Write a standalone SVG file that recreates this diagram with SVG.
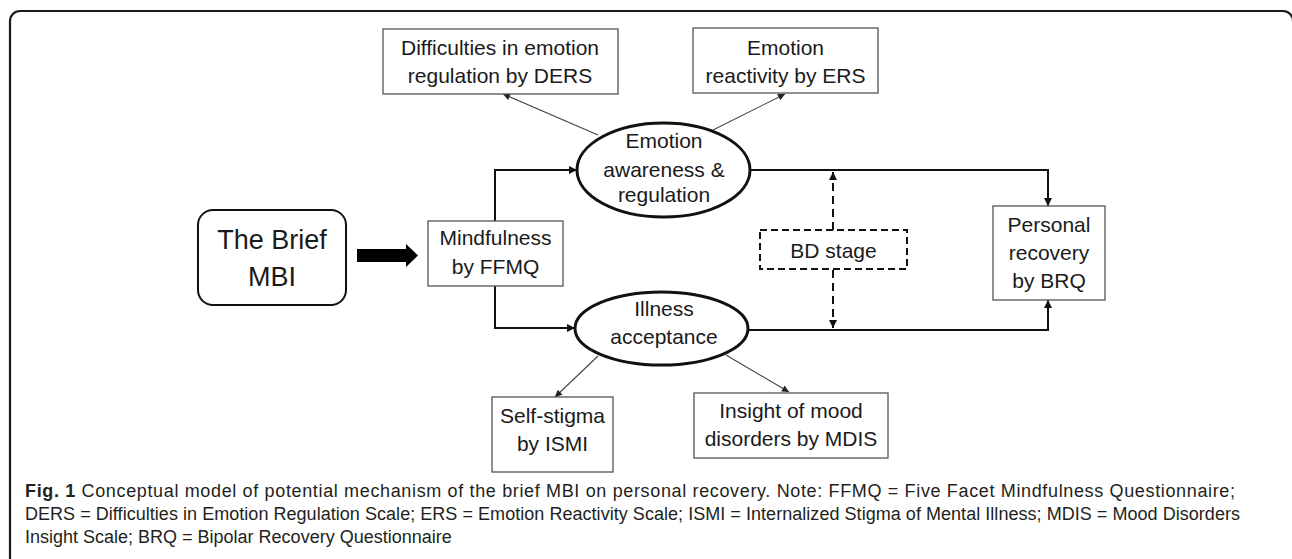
<svg xmlns="http://www.w3.org/2000/svg" width="1292" height="559" viewBox="0 0 1292 559">
<defs>
<marker id="ah" viewBox="0 0 10 10" refX="10" refY="5" markerWidth="9" markerHeight="8" markerUnits="userSpaceOnUse" orient="auto"><path d="M0,0 L10,5 L0,10 z" fill="#111"/></marker>
<marker id="ahs" viewBox="0 0 10 10" refX="10" refY="5" markerWidth="9" markerHeight="7" markerUnits="userSpaceOnUse" orient="auto"><path d="M0,0 L10,5 L0,10 z" fill="#222"/></marker>
</defs>
<style>
.t{font-family:"Liberation Sans",Arial,sans-serif;font-size:21px;fill:#1a1a1a;text-anchor:middle}
.big{font-size:27px}
.box{fill:#fff;stroke:#555;stroke-width:1.3}
.ell{fill:#fff;stroke:#111;stroke-width:3}
.c{fill:none;stroke:#111;stroke-width:2}
.thin{fill:none;stroke:#444;stroke-width:1.1}
.dash{fill:none;stroke:#111;stroke-width:2;stroke-dasharray:8 5}
.cap{font-family:"Liberation Sans",Arial,sans-serif;font-size:18px;fill:#231f20}
</style>
<rect width="1292" height="559" fill="#fff"/>
<path d="M10,559 L10,21 A10,10 0 0 1 20,11 L1283,11 A10,10 0 0 1 1293,21" fill="none" stroke="#1a1a1a" stroke-width="2.2"/>

<g id="connectors">
<path class="c" d="M495,221 V170 H577" marker-end="url(#ah)"/>
<path class="c" d="M495,286 V328 H575" marker-end="url(#ah)"/>
<path class="c" d="M750,170 H1048 V206" marker-end="url(#ah)"/>
<path class="c" d="M748,330 H1048 V300" marker-end="url(#ah)"/>
<path class="dash" d="M833,230 V172" marker-end="url(#ah)"/>
<path class="dash" d="M833,270 V328" marker-end="url(#ah)"/>
<path class="thin" d="M598,135 L503,94" marker-end="url(#ahs)"/>
<path class="thin" d="M713,130 L785,94" marker-end="url(#ahs)"/>
<path class="thin" d="M598,356 L555,397" marker-end="url(#ahs)"/>
<path class="thin" d="M726,355 L789,392" marker-end="url(#ahs)"/>
<polygon points="357,249 406,249 406,244 418,255.5 406,267 406,262 357,262" fill="#000"/>
</g>

<g id="brief">
<rect x="198" y="210" width="148" height="95" rx="15" fill="#fff" stroke="#111" stroke-width="2"/>
<text class="t big" x="272" y="249">The Brief</text>
<text class="t big" x="272" y="286">MBI</text>
</g>
<g id="mindfulness">
<rect class="box" x="428" y="221" width="135" height="65"/>
<text class="t" x="495.5" y="245">Mindfulness</text>
<text class="t" x="495.5" y="274">by FFMQ</text>
</g>
<g id="ders">
<rect class="box" x="383" y="29" width="235" height="65"/>
<text class="t" x="500" y="55">Difficulties in emotion</text>
<text class="t" x="500" y="83">regulation by DERS</text>
</g>
<g id="ers">
<rect class="box" x="693" y="28" width="185" height="65"/>
<text class="t" x="785.5" y="55">Emotion</text>
<text class="t" x="785.5" y="83">reactivity by ERS</text>
</g>
<g id="emotion">
<ellipse class="ell" cx="663.5" cy="170" rx="86.5" ry="47"/>
<text class="t" x="664" y="148">Emotion</text>
<text class="t" x="664" y="177">awareness &amp;</text>
<text class="t" x="664" y="202">regulation</text>
</g>
<g id="illness">
<ellipse class="ell" cx="661.5" cy="328.5" rx="86.5" ry="36.5"/>
<text class="t" x="664" y="316">Illness</text>
<text class="t" x="664" y="344">acceptance</text>
</g>
<g id="bdstage">
<rect x="760" y="230" width="147" height="39" fill="#fff" stroke="#111" stroke-width="2" stroke-dasharray="7 4"/>
<text class="t" x="833.5" y="258">BD stage</text>
</g>
<g id="personal">
<rect class="box" x="993" y="206" width="112" height="94"/>
<text class="t" x="1049" y="232">Personal</text>
<text class="t" x="1049" y="260">recovery</text>
<text class="t" x="1049" y="288">by BRQ</text>
</g>
<g id="selfstigma">
<rect class="box" x="492" y="397" width="121" height="75"/>
<text class="t" x="552.5" y="423">Self-stigma</text>
<text class="t" x="552.5" y="451">by ISMI</text>
</g>
<g id="insight">
<rect class="box" x="694" y="393" width="194" height="65"/>
<text class="t" x="791" y="418">Insight of mood</text>
<text class="t" x="791" y="446">disorders by MDIS</text>
</g>

<g id="caption">
<text class="cap" x="25" y="497" textLength="1210"><tspan font-weight="bold">Fig. 1</tspan> Conceptual model of potential mechanism of the brief MBI on personal recovery. Note: FFMQ = Five Facet Mindfulness Questionnaire;</text>
<text class="cap" x="25" y="520" textLength="1215">DERS = Difficulties in Emotion Regulation Scale; ERS = Emotion Reactivity Scale; ISMI = Internalized Stigma of Mental Illness; MDIS = Mood Disorders</text>
<text class="cap" x="25" y="543">Insight Scale; BRQ = Bipolar Recovery Questionnaire</text>
</g>
</svg>
